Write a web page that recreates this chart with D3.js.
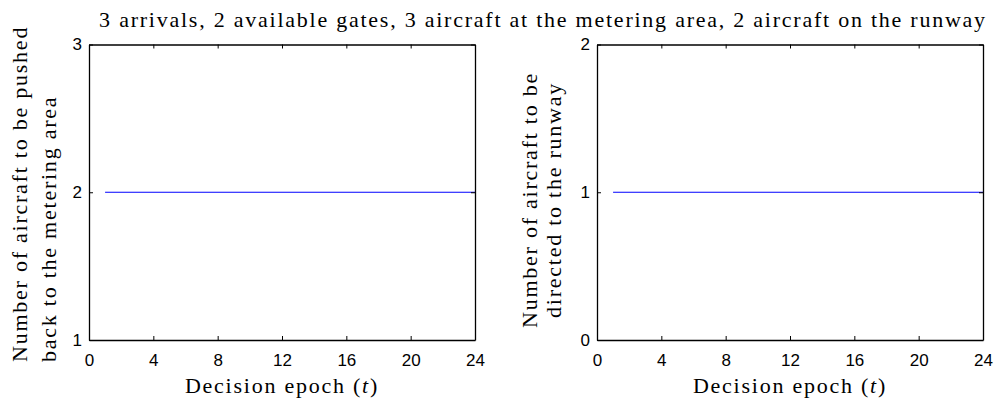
<!DOCTYPE html>
<html>
<head>
<meta charset="utf-8">
<script src="https://cdn.jsdelivr.net/npm/d3@7"></script>
<style>
  html, body { margin: 0; padding: 0; background: #fff; }
  svg { display: block; }
  text.serif { font-family: "Liberation Serif", "Times New Roman", serif; }
  .tick text { font-family: "Liberation Sans", Arial, sans-serif; }
</style>
</head>
<body>
<script>
// Decision epochs and the policy values at each epoch
const epochs = d3.range(1, 25);
const pushedBack = [2, 2, 2, 2, 2, 2, 2, 2, 2, 2, 2, 2, 2, 2, 2, 2, 2, 2, 2, 2, 2, 2, 2, 2];
const toRunway   = [1, 1, 1, 1, 1, 1, 1, 1, 1, 1, 1, 1, 1, 1, 1, 1, 1, 1, 1, 1, 1, 1, 1, 1];

const xTicks = [0, 4, 8, 12, 16, 20, 24];
const leftYTicks = [1, 2, 3];
const rightYTicks = [0, 1, 2];

const titleText = "3 arrivals, 2 available gates, 3 aircraft at the metering area, 2 aircraft on the runway";
const xLabel = "Decision epoch";

const W = 1001, H = 403;
const serifSize = 22;

const svg = d3.select("body").append("svg").attr("width", W).attr("height", H);

const plotTop = 44.5, plotBottom = 340;

const panels = [
  { x0: 89, x1: 475, values: pushedBack, yDomain: [1, 3], yTicks: leftYTicks,
    yLines: ["Number of aircraft to be pushed", "back to the metering area"],
    yLineX: [27, 56], yAnchor: "start", yAnchorPos: 362 },
  { x0: 597, x1: 983, values: toRunway, yDomain: [0, 2], yTicks: rightYTicks,
    yLines: ["Number of aircraft to be", "directed to the runway"],
    yLineX: [537, 561], yAnchor: "middle", yAnchorPos: 200 }
];

function styleAxis(g) {
  g.selectAll("path.domain").attr("stroke", "#000").attr("stroke-width", 1.3);
  g.selectAll(".tick line").attr("stroke", "#000").attr("stroke-width", 1);
  g.selectAll(".tick text").attr("fill", "#000").style("font-size", "17px");
}

function serifText(sel) {
  return sel.append("text")
    .attr("class", "serif")
    .style("font-size", serifSize + "px")
    .attr("fill", "#000");
}

panels.forEach(p => {
  const x = d3.scaleLinear().domain([0, 24]).range([p.x0, p.x1]);
  const y = d3.scaleLinear().domain(p.yDomain).range([plotBottom, plotTop]);

  // data line
  const line = d3.line().x((d, i) => x(epochs[i])).y(d => y(d));
  svg.append("path").datum(p.values).attr("d", line)
    .attr("fill", "none").attr("stroke", "#0000ff").attr("stroke-width", 1.1);

  // box axes with inward ticks
  svg.append("g").attr("transform", `translate(0,${plotBottom})`)
    .call(d3.axisBottom(x).tickValues(xTicks).tickSizeInner(-4).tickSizeOuter(0).tickPadding(14))
    .call(styleAxis);
  svg.append("g").attr("transform", `translate(0,${plotTop})`)
    .call(d3.axisTop(x).tickValues(xTicks).tickFormat("").tickSizeInner(-4).tickSizeOuter(0))
    .call(styleAxis);
  svg.append("g").attr("transform", `translate(${p.x0},0)`)
    .call(d3.axisLeft(y).tickValues(p.yTicks).tickFormat(d3.format("d")).tickSizeInner(-4).tickSizeOuter(0).tickPadding(7))
    .call(styleAxis);
  svg.append("g").attr("transform", `translate(${p.x1},0)`)
    .call(d3.axisRight(y).tickValues(p.yTicks).tickFormat("").tickSizeInner(-4).tickSizeOuter(0))
    .call(styleAxis);

  // x label
  const xl = serifText(svg)
    .attr("x", (p.x0 + p.x1) / 2).attr("y", 393).attr("text-anchor", "middle");
  xl.append("tspan").text(xLabel + " (");
  xl.append("tspan").attr("font-style", "italic").text("t");
  xl.append("tspan").text(")");

  // y label (two lines, rotated)
  p.yLines.forEach((s, i) => {
    serifText(svg)
      .attr("transform", `translate(${p.yLineX[i]},${p.yAnchorPos}) rotate(-90)`)
      .attr("text-anchor", p.yAnchor)
      .text(s);
  });
});

// title
const title = serifText(svg)
  .attr("x", 543).attr("y", 27).attr("text-anchor", "middle")
  .text(titleText);

// loosen the serif tracking slightly so the title spans its full width
const titleSpan = 886;
const natural = title.node().getComputedTextLength();
const tracking = Math.max(0, (titleSpan - natural) / (titleText.length - 1));
svg.selectAll("text.serif").attr("letter-spacing", tracking);
</script>
</body>
</html>
